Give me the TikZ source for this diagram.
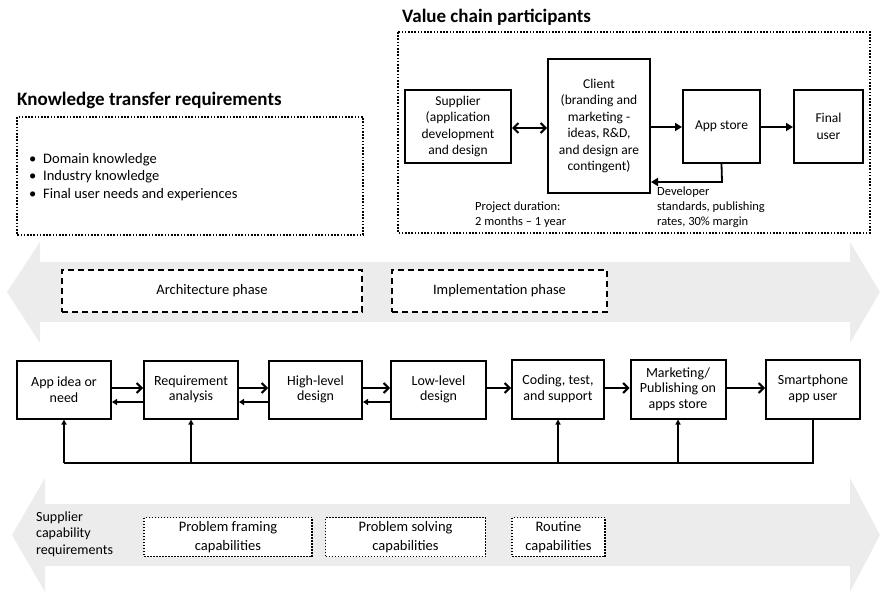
\documentclass[tikz,border=0pt]{standalone}
\usepackage{fontspec}
\setmainfont{Carlito}
\usetikzlibrary{arrows.meta}
\newcommand{\fsz}[2]{\fontsize{#1}{#2}\selectfont}
\begin{document}
\begin{tikzpicture}[x=1pt,y=-1pt,
  band/.style={fill=gray!15, draw=none},
  pbox/.style={draw, line width=2pt, fill=white, align=center, inner sep=0pt, font=\fsz{14}{15.5}},
  vbox/.style={draw, line width=2pt, fill=white, align=center, inner sep=0pt, font=\fsz{13.5}{16.5}},
  dashbox/.style={draw, line width=2pt, dash pattern=on 6pt off 4pt, fill=white, align=center, inner sep=0pt, font=\fsz{14.5}{16}},
  dotbox/.style={draw, line width=1.8pt, dash pattern=on 1.5pt off 1.5pt, fill=white, align=center, inner sep=0pt, font=\fsz{14.5}{18.5}},
  container/.style={draw, line width=1.9pt, dash pattern=on 1.6pt off 1.6pt},
  title/.style={anchor=west, font=\bfseries\fsz{19}{21}, inner sep=0pt},
  txt/.style={anchor=west, align=left, inner sep=0pt, font=\fsz{12.5}{15}},
  btxt/.style={anchor=west, align=left, inner sep=0pt, font=\fsz{14.5}{17}},
  fwd/.style={line width=2pt, -{Straight Barb[length=5pt,width=10pt]}},
  back/.style={line width=1.8pt, -{Triangle[length=5pt,width=6pt]}},
  solid/.style={line width=2pt, -{Triangle[length=7pt,width=8pt]}},
  up/.style={line width=1.6pt, -{Triangle[length=5pt,width=5pt]}}
]
\useasboundingbox (0,0) rectangle (880,593);

% grey double arrows
\fill[band] (7,292) -- (40,242) -- (40,262) -- (850,262) -- (850,242) -- (880,292)
  -- (850,343) -- (850,322) -- (40,322) -- (40,343) -- cycle;
\fill[band] (12,535) -- (45,478) -- (45,504) -- (850,504) -- (850,478) -- (880,535)
  -- (850,592) -- (850,566) -- (45,566) -- (45,592) -- cycle;

% Knowledge transfer requirements
\node[title] (kt) at (17,100) {Knowledge transfer requirements};
\draw[container] (17,117) rectangle (363,235);
\node[btxt] (b1) at (29,160) {•};
\node[btxt] (b2) at (29,177) {•};
\node[btxt] (b3) at (29,195) {•};
\node[btxt] (k1) at (43,160) {Domain knowledge};
\node[btxt] (k2) at (43,177) {Industry knowledge};
\node[btxt] (k3) at (43,195) {Final user needs and experiences};

% Value chain participants
\node[title] (vc) at (402,17) {Value chain participants};
\draw[container] (398,32) rectangle (870,233);
\node[vbox, minimum width=106, minimum height=73] (sup) at (458,126.5) {Supplier\\(application\\development\\and design};
\node[vbox, minimum width=102, minimum height=134] (cli) at (599,126) {Client\\(branding and\\marketing -\\ideas, R\&D,\\and design are\\contingent)};
\node[vbox, minimum width=77, minimum height=73] (aps) at (721.5,126.5) {App store};
\node[vbox, minimum width=69, minimum height=73] (fin) at (828.5,126.5) {Final\\user};
\draw[line width=2pt, {Straight Barb[length=5pt,width=10pt]}-{Straight Barb[length=5pt,width=10pt]}] (sup.east |- 0,128) -- (cli.west |- 0,128);
\draw[solid] (cli.east |- 0,127) -- (aps.west |- 0,127);
\draw[solid] (aps.east |- 0,127) -- (fin.west |- 0,127);
\coordinate (dev) at (722,182);
\draw[solid, line width=1.8pt] (aps.south) -- (dev) -- (cli.east |- dev);
\node[txt] (devt) at (657,207) {Developer\\standards, publishing\\rates, 30\% margin};
\node[txt] (proj) at (475,215) {Project duration:\\2 months -- 1 year};

% phases
\node[dashbox, minimum width=300, minimum height=42] (arch) at (212,291) {Architecture phase};
\node[dashbox, minimum width=215, minimum height=42] (impl) at (499.5,291) {Implementation phase};

% process row
\node[pbox, minimum width=94, minimum height=58] (idea) at (64,389.5) {App idea or\\need};
\node[pbox, minimum width=94, minimum height=58] (req) at (191,389.5) {Requirement\\analysis};
\node[pbox, minimum width=93, minimum height=58] (hld) at (315.5,389.5) {High-level\\design};
\node[pbox, minimum width=95, minimum height=58] (lld) at (438.5,389.5) {Low-level\\design};
\node[pbox, minimum width=92, minimum height=59] (cod) at (558,389) {Coding, test,\\and support};
\node[pbox, minimum width=95, minimum height=59] (mkt) at (678,389) {Marketing/\\Publishing on\\apps store};
\node[pbox, minimum width=94, minimum height=59] (sp) at (813,389) {Smartphone\\app user};

\draw[fwd] (idea.east |- 0,388) -- (req.west |- 0,388);
\draw[fwd] (req.east |- 0,388) -- (hld.west |- 0,388);
\draw[fwd] (hld.east |- 0,388) -- (lld.west |- 0,388);
\draw[fwd] (lld.east |- 0,388) -- (cod.west |- 0,388);
\draw[fwd] (cod.east |- 0,388) -- (mkt.west |- 0,388);
\draw[fwd] (mkt.east |- 0,388) -- (sp.west |- 0,388);
\draw[back] (req.west |- 0,402) -- (idea.east |- 0,402);
\draw[back] (hld.west |- 0,402) -- (req.east |- 0,402);
\draw[back] (lld.west |- 0,402) -- (hld.east |- 0,402);

% feedback loop
\coordinate (fbR) at (813,463);
\coordinate (fbL) at (64,463);
\draw[line width=1.6pt] (sp.south) -- (fbR) -- (fbL);
\draw[up] (fbL) -- (idea.south);
\draw[up] (req.south |- fbL) -- (req.south);
\draw[up] (cod.south |- fbL) -- (cod.south);
\draw[up] (mkt.south |- fbL) -- (mkt.south);

% supplier capability requirements
\node[btxt, font=\fsz{14}{16.5}] (scr) at (36,534) {Supplier\\capability\\requirements};
\node[dotbox, minimum width=168, minimum height=39] (pf) at (228,537) {Problem framing\\capabilities};
\node[dotbox, minimum width=160, minimum height=39] (ps) at (405.5,537) {Problem solving\\capabilities};
\node[dotbox, minimum width=93, minimum height=39] (rt) at (558.5,537) {Routine\\capabilities};
\end{tikzpicture}
\end{document}
